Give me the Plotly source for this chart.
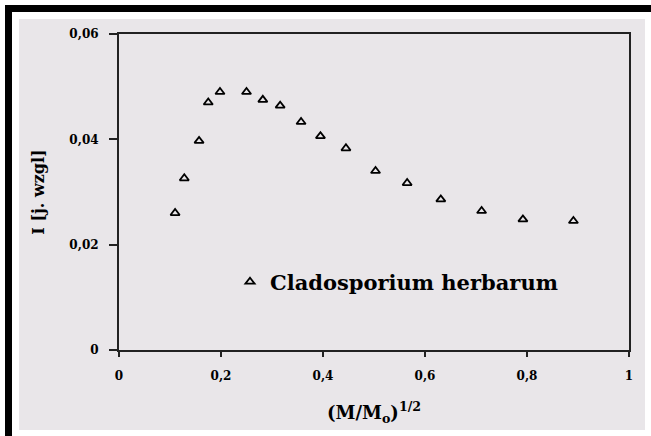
import plotly.graph_objects as go

# data
x_vals = [0.110, 0.128, 0.157, 0.175, 0.198, 0.250, 0.282, 0.316, 0.357, 0.395,
          0.445, 0.503, 0.565, 0.631, 0.711, 0.792, 0.891]
y_vals = [0.0260, 0.0326, 0.0397, 0.0470, 0.0490, 0.0490, 0.0475, 0.0464, 0.0433, 0.0406,
          0.0383, 0.0340, 0.0317, 0.0286, 0.0264, 0.0248, 0.0245]
series_name = "Cladosporium herbarum"

x_tickvals = [0, 0.2, 0.4, 0.6, 0.8, 1]
x_ticktext = ["0", "0,2", "0,4", "0,6", "0,8", "1"]
y_tickvals = [0, 0.02, 0.04, 0.06]
y_ticktext = ["0", "0,02", "0,04", "0,06"]

W, H = 651, 436
L, R, T, B = 119, 22, 34, 86
pw, ph = W - L - R, H - T - B

def px(x):
    return (x - L) / pw

def py(y):
    return (H - B - y) / ph

SERIF = "DejaVu Serif"
PANEL = "#e9e6e9"

fig = go.Figure()
fig.add_trace(go.Scatter(
    x=x_vals, y=y_vals, mode="markers", name=series_name,
    marker=dict(symbol="triangle-up-open", size=8, color="black",
                line=dict(color="black", width=1.8)),
))

shapes = [
    # grey panel
    dict(type="rect", xref="paper", yref="paper", x0=px(19), x1=px(645), y0=py(430), y1=py(19),
         fillcolor=PANEL, line=dict(width=0), layer="below"),
    # black border (left and top)
    dict(type="rect", xref="paper", yref="paper", x0=px(5), x1=px(12), y0=py(436), y1=py(5),
         fillcolor="black", line=dict(width=0), layer="below"),
    dict(type="rect", xref="paper", yref="paper", x0=px(5), x1=px(651), y0=py(12), y1=py(5),
         fillcolor="black", line=dict(width=0), layer="below"),
]

fig.update_layout(
    width=W, height=H,
    margin=dict(l=L, r=R, t=T, b=B, pad=0, autoexpand=False),
    paper_bgcolor="white", plot_bgcolor=PANEL,
    shapes=shapes,
    showlegend=True,
    legend=dict(x=px(230), y=py(282), xanchor="left", yanchor="middle",
                bgcolor="rgba(0,0,0,0)",
                font=dict(family=SERIF, size=21, color="black", weight="bold")),
    font=dict(family=SERIF, color="black"),
)

fig.update_xaxes(
    range=[0, 1], tickvals=x_tickvals, ticktext=x_ticktext,
    showgrid=False, zeroline=False, showline=True, linecolor="#222", linewidth=2,
    mirror=True, ticks="outside", ticklen=5, tickwidth=2, tickcolor="#222",
    ticklabelstandoff=9, automargin=False,
    tickfont=dict(family=SERIF, size=12, color="black", weight="bold"),
    title=dict(text="(M/M<sub>o</sub>)<sup>1/2</sup>", standoff=24,
               font=dict(family=SERIF, size=18, color="black", weight="bold")),
)
fig.update_yaxes(
    range=[0, 0.06], tickvals=y_tickvals, ticktext=y_ticktext,
    showgrid=False, zeroline=False, showline=True, linecolor="#222", linewidth=2,
    mirror=True, ticks="outside", ticklen=8, tickwidth=2, tickcolor="#222",
    ticklabelstandoff=8, automargin=False,
    tickfont=dict(family=SERIF, size=12, color="black", weight="bold"),
    title=dict(text="I [j. wzgl]", standoff=21,
               font=dict(family=SERIF, size=16, color="black", weight="bold")),
)

fig.write_html("out.html", config={"displayModeBar": False},
               post_script="document.body.style.margin='0';document.body.style.overflow='hidden';")
